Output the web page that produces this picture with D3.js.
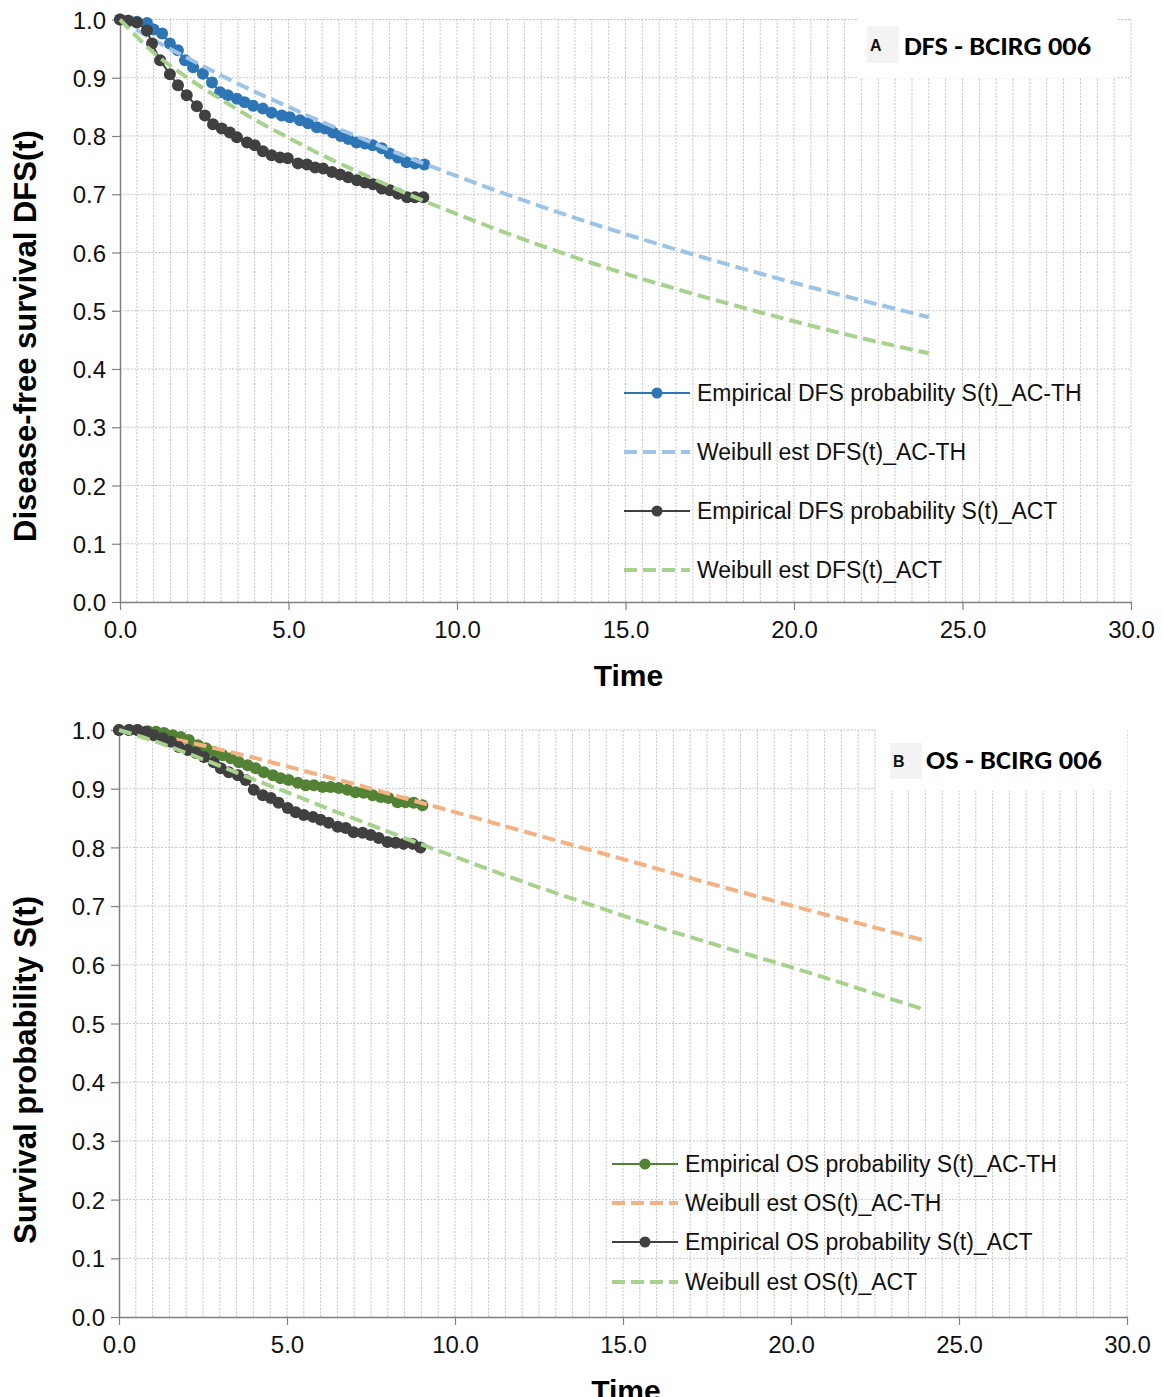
<!DOCTYPE html>
<html>
<head>
<meta charset="utf-8">
<script src="https://cdn.jsdelivr.net/npm/d3@7"></script>
<style>
  html, body { margin: 0; padding: 0; background: #fff; }
  svg { display: block; }
</style>
</head>
<body>
<svg id="chart" width="1163" height="1397"></svg>
<script>
// ---------------- DATA ----------------
const xTicks = [0, 5, 10, 15, 20, 25, 30];
const yTicks = [0, 0.1, 0.2, 0.3, 0.4, 0.5, 0.6, 0.7, 0.8, 0.9, 1.0];

// Panel A – DFS
const dfsEmpACTH_t = [0, 0.25, 0.5, 0.8, 1.0, 1.25, 1.48, 1.72, 1.93, 2.17, 2.46, 2.73, 2.97, 3.2, 3.47, 3.7, 3.95, 4.24, 4.5, 4.8, 5.04, 5.34, 5.58, 5.84, 6.08, 6.32, 6.55, 6.78, 7.02, 7.27, 7.5, 7.77, 8.0, 8.25, 8.5, 8.75, 9.03];
const dfsEmpACTH_s = [1.0, 0.998, 0.996, 0.994, 0.983, 0.976, 0.959, 0.947, 0.930, 0.918, 0.907, 0.892, 0.875, 0.870, 0.864, 0.858, 0.852, 0.847, 0.840, 0.835, 0.832, 0.827, 0.822, 0.815, 0.813, 0.806, 0.800, 0.795, 0.789, 0.787, 0.784, 0.779, 0.770, 0.763, 0.755, 0.753, 0.751];

const dfsEmpACT_t = [0, 0.24, 0.5, 0.8, 0.95, 1.19, 1.48, 1.72, 1.98, 2.28, 2.52, 2.76, 3.02, 3.26, 3.47, 3.77, 4.0, 4.24, 4.5, 4.75, 4.98, 5.28, 5.55, 5.79, 6.03, 6.29, 6.53, 6.77, 7.03, 7.27, 7.51, 7.77, 8.01, 8.25, 8.52, 8.75, 9.0];
const dfsEmpACT_s = [1.0, 0.998, 0.995, 0.981, 0.959, 0.930, 0.906, 0.887, 0.870, 0.851, 0.835, 0.820, 0.813, 0.806, 0.798, 0.789, 0.784, 0.774, 0.767, 0.763, 0.762, 0.753, 0.751, 0.746, 0.744, 0.738, 0.734, 0.729, 0.724, 0.720, 0.717, 0.710, 0.707, 0.701, 0.695, 0.695, 0.695];

const weibullT = [0, 1, 2, 3, 4, 5, 6, 7, 8, 9, 10, 12, 14, 16, 18, 20, 22, 24];
const dfsWeibACTH = [1, 0.965, 0.934, 0.904, 0.876, 0.850, 0.824, 0.800, 0.776, 0.753, 0.731, 0.689, 0.650, 0.614, 0.580, 0.548, 0.518, 0.489];
const dfsWeibACT  = [1, 0.943, 0.900, 0.863, 0.828, 0.797, 0.767, 0.740, 0.714, 0.689, 0.666, 0.622, 0.582, 0.546, 0.513, 0.482, 0.453, 0.427];

// Panel B – OS
const osEmpACTH_t = [0, 0.3, 0.55, 0.86, 1.1, 1.34, 1.6, 1.84, 2.08, 2.35, 2.59, 2.82, 3.09, 3.33, 3.57, 3.83, 4.07, 4.31, 4.58, 4.81, 5.05, 5.32, 5.56, 5.8, 6.06, 6.3, 6.54, 6.8, 7.04, 7.28, 7.55, 7.79, 8.02, 8.29, 8.53, 8.77, 9.03];
const osEmpACTH_s = [1.0, 1.0, 1.0, 0.998, 0.997, 0.995, 0.991, 0.988, 0.983, 0.974, 0.969, 0.963, 0.957, 0.952, 0.945, 0.940, 0.935, 0.928, 0.923, 0.918, 0.915, 0.910, 0.906, 0.906, 0.903, 0.903, 0.901, 0.898, 0.894, 0.893, 0.889, 0.886, 0.884, 0.877, 0.877, 0.876, 0.872];

const osEmpACT_t = [0, 0.3, 0.55, 0.8, 1.04, 1.31, 1.55, 1.78, 2.05, 2.29, 2.53, 2.82, 3.03, 3.27, 3.54, 3.77, 4.01, 4.28, 4.52, 4.75, 5.02, 5.26, 5.5, 5.77, 6.0, 6.24, 6.51, 6.75, 6.98, 7.25, 7.49, 7.73, 7.99, 8.23, 8.47, 8.74, 8.97];
const osEmpACT_s = [1.0, 1.0, 1.0, 0.997, 0.991, 0.986, 0.980, 0.971, 0.966, 0.961, 0.954, 0.945, 0.935, 0.928, 0.923, 0.915, 0.898, 0.889, 0.884, 0.876, 0.867, 0.860, 0.855, 0.852, 0.847, 0.842, 0.835, 0.833, 0.826, 0.825, 0.821, 0.816, 0.809, 0.808, 0.806, 0.806, 0.800];

const osWeibACTH = [1, 0.991, 0.980, 0.967, 0.953, 0.938, 0.923, 0.908, 0.892, 0.876, 0.860, 0.828, 0.796, 0.764, 0.732, 0.701, 0.671, 0.641];
const osWeibACT  = [1, 0.982, 0.961, 0.939, 0.916, 0.894, 0.871, 0.849, 0.827, 0.805, 0.784, 0.742, 0.703, 0.665, 0.630, 0.596, 0.560, 0.523];

const legendA = ["Empirical DFS probability S(t)_AC-TH", "Weibull est DFS(t)_AC-TH", "Empirical DFS probability S(t)_ACT", "Weibull est DFS(t)_ACT"];
const legendB = ["Empirical OS probability S(t)_AC-TH", "Weibull est OS(t)_AC-TH", "Empirical OS probability S(t)_ACT", "Weibull est OS(t)_ACT"];

// ---------------- DRAWING ----------------
const svg = d3.select("#chart");
const zip = (ts, ss) => ts.map((t, i) => ({t: t, s: ss[i]}));
const FONT = "'Liberation Sans', Arial, Helvetica, sans-serif";

function drawPanel(cfg) {
  const g = svg.append("g");
  const x = d3.scaleLinear().domain([0, 30]).range([cfg.left, cfg.right]);
  const y = d3.scaleLinear().domain([0, 1]).range([cfg.bottom, cfg.top]);

  // grid
  const vGrid = d3.range(1, 61).map(i => i * 0.5);
  g.append("g").selectAll("line").data(vGrid).join("line")
    .attr("x1", d => x(d)).attr("x2", d => x(d))
    .attr("y1", y(0)).attr("y2", y(1))
    .attr("stroke", "#c4c4c4").attr("stroke-width", 1)
    .attr("stroke-dasharray", "2,1.5");
  g.append("g").selectAll("line").data(yTicks.slice(1)).join("line")
    .attr("x1", x(0)).attr("x2", x(30))
    .attr("y1", d => y(d)).attr("y2", d => y(d))
    .attr("stroke", "#c4c4c4").attr("stroke-width", 1)
    .attr("stroke-dasharray", "2,1.5");

  // title box (covers grid)
  g.append("rect").attr("x", cfg.titleBox[0]).attr("y", cfg.titleBox[1])
    .attr("width", cfg.titleBox[2]).attr("height", cfg.titleBox[3]).attr("fill", "#fff");
  g.append("rect").attr("x", cfg.letterBox[0]).attr("y", cfg.letterBox[1])
    .attr("width", cfg.letterBox[2]).attr("height", cfg.letterBox[3]).attr("fill", "#f3f3f3");
  g.append("text").attr("x", cfg.letterBox[0] + 3).attr("y", cfg.letterBox[1] + cfg.letterBox[3] / 2 + 6)
    .attr("font-family", FONT).attr("font-weight", "bold").attr("font-size", 16)
    .attr("fill", "#111").text(cfg.letter);
  g.append("text").attr("x", cfg.titleX).attr("y", cfg.titleY)
    .attr("font-family", "Carlito, Lato, " + FONT).attr("font-weight", "bold").attr("font-size", 26)
    .attr("textLength", cfg.titleLen).attr("lengthAdjust", "spacingAndGlyphs")
    .attr("fill", "#000").text(cfg.title);

  // axes
  const xAxis = g.append("g").attr("transform", `translate(0,${y(0)})`)
    .call(d3.axisBottom(x).tickValues(xTicks).tickSize(8).tickSizeOuter(0).tickFormat(d3.format(".1f")));
  const yAxis = g.append("g").attr("transform", `translate(${x(0)},0)`)
    .call(d3.axisLeft(y).tickValues(yTicks).tickSize(8).tickSizeOuter(0).tickFormat(d3.format(".1f")));
  [xAxis, yAxis].forEach(a => {
    a.select(".domain").attr("stroke", "#808080").attr("stroke-width", 1.5);
    a.selectAll(".tick line").attr("stroke", "#808080").attr("stroke-width", 1.2);
    a.selectAll("text").attr("font-family", FONT).attr("font-size", 24).attr("fill", "#111");
  });
  xAxis.selectAll("text").attr("y", 19).attr("dy", "0.71em");
  yAxis.selectAll("text").attr("x", -14).attr("dy", "0.36em");

  // axis titles
  g.append("text").attr("transform", `translate(${cfg.yLabelX},${cfg.yLabelY}) rotate(-90)`)
    .attr("text-anchor", "middle").attr("font-family", FONT).attr("font-weight", "bold")
    .attr("font-size", 31).attr("fill", "#000").text(cfg.yLabel);
  g.append("text").attr("x", (x(0) + x(30)) / 2 + 3).attr("y", cfg.timeY)
    .attr("text-anchor", "middle").attr("font-family", FONT).attr("font-weight", "bold")
    .attr("font-size", 30).attr("fill", "#000").text("Time");

  const line = d3.line().x(d => x(d.t)).y(d => y(d.s));
  const smooth = d3.line().x(d => x(d.t)).y(d => y(d.s)).curve(d3.curveMonotoneX);

  cfg.series.forEach(sr => {
    const data = zip(sr.t, sr.s);
    if (sr.type === "emp") {
      g.append("path").datum(data).attr("d", line)
        .attr("fill", "none").attr("stroke", sr.color).attr("stroke-width", 2);
      g.append("g").selectAll("circle").data(data).join("circle")
        .attr("cx", d => x(d.t)).attr("cy", d => y(d.s)).attr("r", 6)
        .attr("fill", sr.color);
    } else {
      g.append("path").datum(data).attr("d", smooth)
        .attr("fill", "none").attr("stroke", sr.color).attr("stroke-width", 4)
        .attr("stroke-dasharray", "13,6");
    }
  });

  // legend
  const lg = g.append("g");
  cfg.series.forEach((sr, i) => {
    const ly = cfg.legendY[i];
    lg.append("line").attr("x1", cfg.legendX0).attr("x2", cfg.legendX1)
      .attr("y1", ly).attr("y2", ly).attr("stroke", sr.color)
      .attr("stroke-width", sr.type === "emp" ? 2 : 4)
      .attr("stroke-dasharray", sr.type === "emp" ? null : "13,6");
    if (sr.type === "emp") {
      lg.append("circle").attr("cx", (cfg.legendX0 + cfg.legendX1) / 2).attr("cy", ly)
        .attr("r", 5.5).attr("fill", sr.color);
    }
    lg.append("text").attr("x", cfg.legendX1 + 7).attr("y", ly + 8)
      .attr("font-family", FONT).attr("font-size", 23).attr("fill", "#111")
      .text(cfg.legend[i]);
  });
}

drawPanel({
  left: 120, right: 1131, top: 19.5, bottom: 602,
  yLabel: "Disease-free survival DFS(t)", yLabelX: 36, yLabelY: 336, timeY: 686,
  titleBox: [857, 14, 260, 64], letterBox: [867, 26, 32, 37], letter: "A",
  title: "DFS - BCIRG 006", titleX: 904, titleY: 55, titleLen: 187,
  legendX0: 624, legendX1: 690, legendY: [393, 452, 511, 570], legend: legendA,
  series: [
    {type: "emp", t: dfsEmpACTH_t, s: dfsEmpACTH_s, color: "#2e75b6"},
    {type: "weib", t: weibullT, s: dfsWeibACTH, color: "#9dc3e6"},
    {type: "emp", t: dfsEmpACT_t, s: dfsEmpACT_s, color: "#404040"},
    {type: "weib", t: weibullT, s: dfsWeibACT, color: "#a9d18e"}
  ]
});

drawPanel({
  left: 119, right: 1127, top: 730, bottom: 1317,
  yLabel: "Survival probability S(t)", yLabelX: 36, yLabelY: 1070, timeY: 1401,
  titleBox: [876, 724, 251, 67], letterBox: [890, 743, 32, 36], letter: "B",
  title: "OS - BCIRG 006", titleX: 926, titleY: 769, titleLen: 176,
  legendX0: 612, legendX1: 678, legendY: [1164, 1203, 1242, 1282], legend: legendB,
  series: [
    {type: "emp", t: osEmpACTH_t, s: osEmpACTH_s, color: "#548235"},
    {type: "weib", t: weibullT, s: osWeibACTH, color: "#f4b183"},
    {type: "emp", t: osEmpACT_t, s: osEmpACT_s, color: "#404040"},
    {type: "weib", t: weibullT, s: osWeibACT, color: "#a9d18e"}
  ]
});
</script>
</body>
</html>
